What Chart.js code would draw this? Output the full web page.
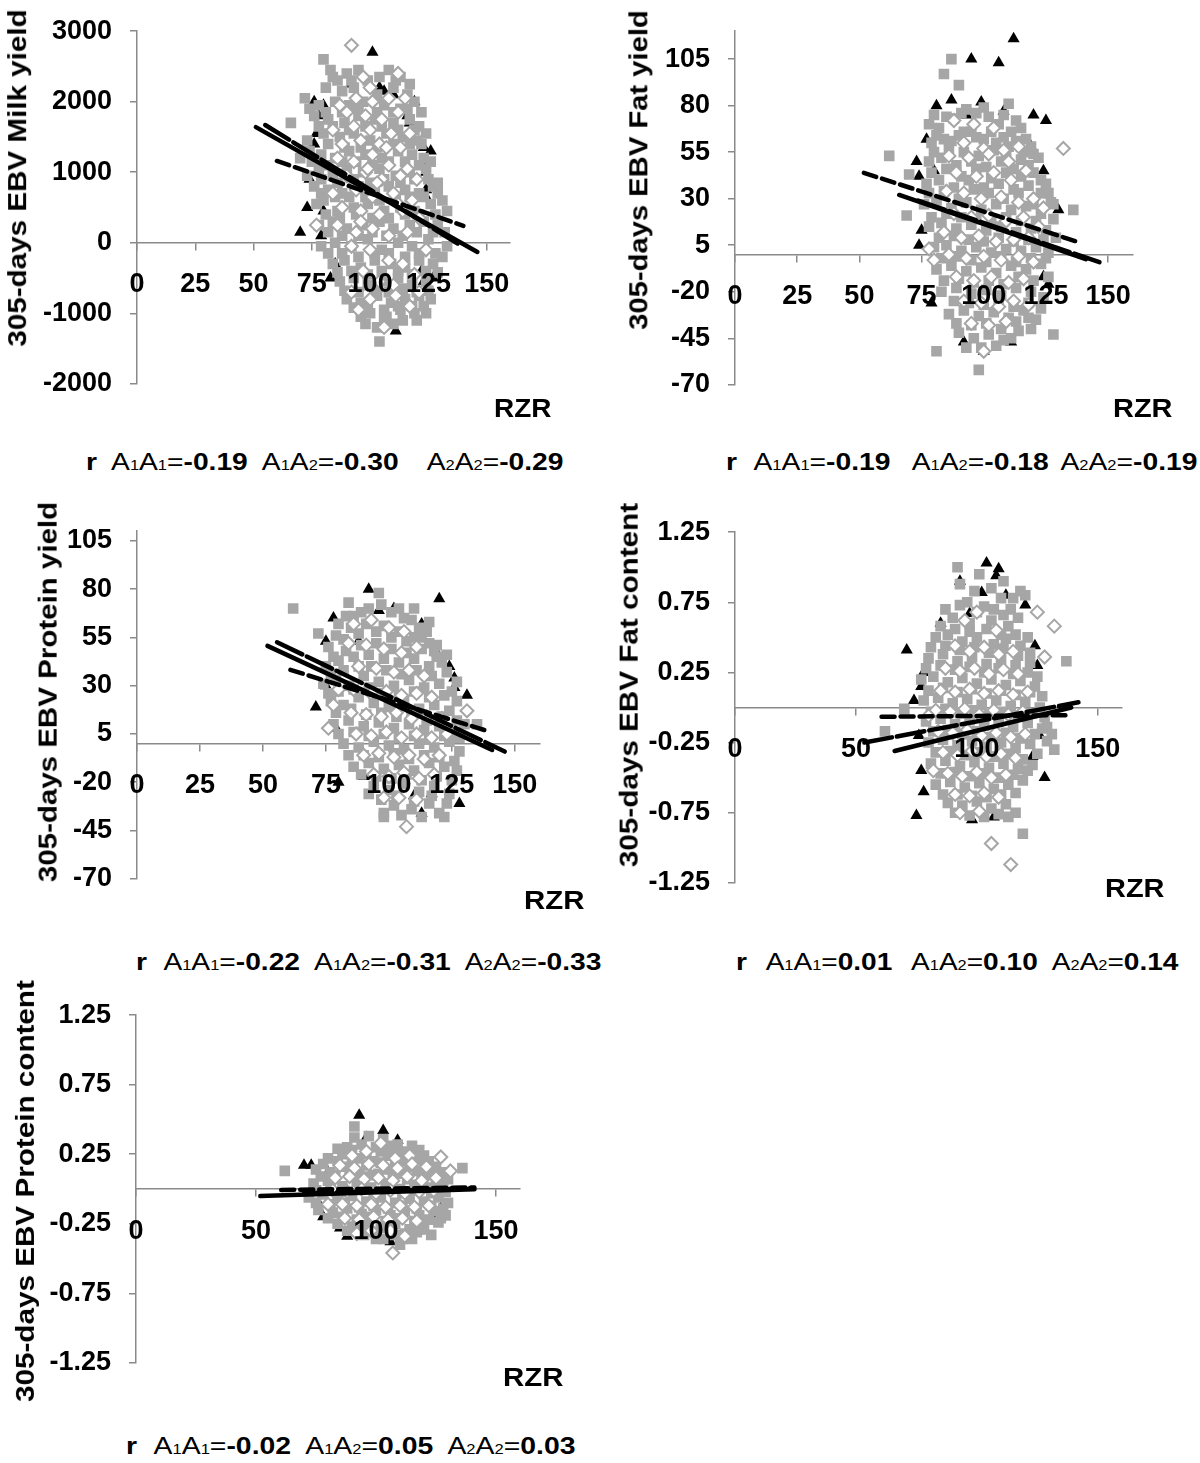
<!DOCTYPE html>
<html><head><meta charset="utf-8">
<script src="https://cdn.jsdelivr.net/npm/chart.js@4.4.1/dist/chart.umd.min.js"></script>
<style>
html,body{margin:0;padding:0;background:#fff;}
#page{position:relative;width:1200px;height:1463px;overflow:hidden;font-family:"Liberation Sans",Arial,Helvetica,sans-serif;color:#000;}
canvas{position:absolute;}
.ytitle{position:absolute;white-space:nowrap;font-weight:bold;font-size:26px;line-height:1;transform-origin:center center;}
.xtitle{position:absolute;white-space:nowrap;font-weight:bold;font-size:26px;line-height:1;transform-origin:left center;}
.corr{position:absolute;white-space:nowrap;font-size:24px;line-height:1;transform-origin:left center;}
.corr b{font-weight:bold;}
.corr .s{font-size:14px;}
</style></head><body><div id="page"></div>
<script>
// ---------- tick labels ----------
const xTicks25 = [0, 25, 50, 75, 100, 125, 150];
const xTicks50 = [0, 50, 100, 150];
const milkTicks = [-2000, -1000, 0, 1000, 2000, 3000];
const yieldTicks = [-70, -45, -20, 5, 30, 55, 80, 105];
const contentTicks = [-1.25, -0.75, -0.25, 0.25, 0.75, 1.25];

// ---------- titles ----------
const yTitles = ["305-days EBV Milk yield", "305-days EBV Fat yield", "305-days EBV Protein yield", "305-days EBV Fat content", "305-days EBV Protein content"];
const xTitle = "RZR";
const genotypes = [["1", "1"], ["1", "2"], ["2", "2"]];

// ---------- correlations (A1A1, A1A2, A2A2) ----------
const milkR = ["-0.19", "-0.30", "-0.29"];
const fatYieldR = ["-0.19", "-0.18", "-0.19"];
const protYieldR = ["-0.22", "-0.31", "-0.33"];
const fatContR = ["0.01", "0.10", "0.14"];
const protContR = ["-0.02", "0.05", "0.03"];

// ---------- Milk yield ----------
const milkA1A1 = [[101,2700],[92,2250],[104,2200],[106,2150],[110,2100],[119,2000],[76,2000],[80,1950],[78,1800],[116,1800],[117,1700],[76,1400],[77,1550],[123,1350],[126,1300],[124,1150],[124,1000],[74,900],[73,500],[70,150],[79,100],[83,-500],[111,-1250],[122,-400],[124,650],[124,750],[85,-300],[123,-550],[127,-500],[80,450]];
const milkA1A2 = [[80,2600],[83,2450],[86,2300],[90,2400],[95,2450],[99,2300],[108,2450],[113,2350],[81,2200],[88,2150],[93,2200],[103,2100],[110,2200],[116,2100],[72,2050],[78,1950],[85,2000],[91,1950],[97,2000],[106,1950],[113,1900],[119,2000],[76,1800],[82,1750],[89,1700],[95,1800],[102,1750],[110,1700],[117,1750],[121,1650],[66,1700],[80,1550],[87,1500],[93,1550],[100,1450],[107,1550],[114,1500],[120,1450],[74,1300],[79,1250],[85,1200],[91,1300],[98,1250],[105,1200],[112,1300],[118,1250],[123,1200],[70,1200],[78,1050],[84,950],[90,1050],[97,1000],[104,1050],[111,950],[117,1000],[124,1050],[76,800],[82,750],[88,700],[95,800],[102,700],[108,800],[115,750],[121,700],[127,800],[77,550],[80,600],[86,450],[93,500],[99,550],[106,450],[113,500],[119,450],[126,550],[131,600],[78,250],[84,300],[90,200],[97,250],[104,300],[110,200],[117,250],[123,300],[129,250],[79,-50],[85,0],[92,-50],[99,50],[105,-100],[112,0],[118,-50],[125,50],[133,-50],[84,-300],[89,-250],[96,-350],[102,-250],[109,-300],[115,-350],[121,-250],[127,-300],[87,-550],[93,-500],[99,-600],[106,-550],[112,-500],[118,-600],[124,-550],[90,-800],[96,-850],[103,-750],[109,-850],[115,-800],[121,-750],[126,-800],[96,-1050],[100,-1000],[107,-1050],[113,-950],[119,-1000],[124,-1000],[103,-1200],[110,-1150],[104,-1400],
  [84,2350],[92,2300],[104,2350],[111,2300],[117,2250],[74,1900],[81,1850],[88,1850],[95,1900],[103,1850],[110,1850],[116,1900],[122,1850],[78,1650],[84,1650],[91,1600],[98,1650],[105,1650],[112,1600],[119,1600],[124,1550],[73,1450],[82,1400],[89,1350],[96,1350],[103,1350],[110,1400],[117,1400],[122,1400],[75,1150],[81,1100],[88,1150],[94,1150],[101,1100],[108,1150],[115,1150],[121,1100],[126,1150],[73,950],[79,900],[86,850],[93,900],[100,850],[106,900],[113,850],[119,900],[125,900],[129,850],[79,700],[85,650],[91,650],[98,650],[104,600],[111,650],[117,650],[123,650],[129,700],[81,400],[87,350],[94,400],[101,350],[108,350],[115,400],[121,400],[128,400],[133,450],[82,150],[88,100],[95,100],[101,150],[107,100],[114,100],[120,150],[127,150],[132,150],[82,-150],[88,-150],[95,-200],[102,-150],[108,-150],[115,-200],[121,-150],[128,-150],[131,-200],[86,-420],[92,-400],[99,-450],[105,-400],[112,-400],[118,-450],[124,-400],[129,-420],[89,-680],[95,-700],[102,-650],[108,-700],[114,-650],[120,-700],[125,-680],[93,-920],[99,-900],[106,-950],[112,-900],[118,-900],[123,-900],[98,-1150],[106,-1100],[114,-1100],[120,-1100]];
const milkA2A2 = [[92,2800],[97,2350],[112,2400],[100,2200],[87,1950],[94,2050],[101,2000],[108,2050],[115,2050],[90,1850],[98,1800],[105,1750],[112,1850],[84,1600],[93,1650],[100,1600],[109,1550],[117,1550],[88,1400],[96,1450],[104,1400],[113,1350],[86,1200],[93,1150],[101,1250],[108,1100],[116,1050],[90,950],[98,1000],[105,900],[113,950],[120,900],[84,700],[94,750],[101,650],[110,700],[118,600],[88,500],[96,450],[104,400],[114,450],[121,350],[86,250],[94,150],[101,200],[108,100],[116,150],[124,-100],[92,-50],[100,-100],[108,-250],[114,-300],[97,-400],[104,-550],[110,-600],[119,-450],[92,-700],[100,-800],[111,-750],[95,-950],[106,-1200],[117,-900],[77,250],[121,-700],[99,1050],[107,1350],[103,850],[96,300],[112,550]];
const milkTrendA1A1 = [[51,1640],[146,-130]];
const milkTrendA1A2 = [[55,1670],[139,-40]];
const milkTrendA2A2 = [[60,1160],[140,240]];

// ---------- Fat yield ----------
const fatYieldA1A1 = [[112,116],[95,105],[106,103],[81,80],[87,83],[99,82],[120,75],[125,72],[77,62],[73,50],[74,42],[80,45],[124,45],[130,24],[74,5],[75,13],[79,-26],[92,-47],[111,-47],[124,-12],[126,-16],[100,-52],[108,77],[93,75],[118,57],[119,58]];
const fatYieldA1A2 = [[87,105],[84,97],[90,91],[62,53],[70,43],[69,21],[81,-52],[98,-62],[136,24],[128,-43],[110,81],[123,40],[128,27],[78,70],[82,68],[88,73],[93,78],[97,76],[102,74],[106,70],[111,66],[115,68],[79,60],[84,62],[90,64],[95,66],[100,62],[105,60],[110,58],[116,55],[78,50],[83,52],[89,48],[95,50],[101,47],[107,50],[112,46],[118,48],[122,52],[77,38],[82,40],[88,36],[94,40],[100,36],[106,38],[112,35],[118,37],[123,33],[76,27],[81,29],[87,25],[93,28],[99,24],[105,27],[111,24],[117,26],[123,22],[127,28],[78,15],[83,17],[89,14],[95,16],[101,13],[107,15],[113,12],[119,14],[125,13],[80,4],[85,5],[91,2],[97,4],[103,1],[109,3],[115,2],[121,4],[126,1],[81,-8],[87,-6],[93,-9],[99,-7],[105,-10],[111,-6],[117,-8],[123,-5],[83,-20],[89,-18],[95,-21],[101,-19],[107,-22],[113,-18],[119,-20],[124,-23],[86,-32],[92,-30],[98,-33],[104,-31],[110,-34],[116,-30],[121,-35],[90,-42],[96,-45],[102,-43],[108,-46],[114,-41],[119,-40],[99,-50],
  [80,75],[85,74],[91,76],[100,79],[108,75],[113,72],[117,62],[81,64],[87,61],[92,66],[97,63],[103,66],[108,63],[113,61],[119,58],[80,55],[86,57],[92,55],[98,53],[104,56],[109,53],[115,51],[120,54],[79,44],[85,46],[91,42],[97,46],[103,41],[109,44],[115,42],[120,44],[125,38],[78,33],[84,34],[90,30],[96,35],[102,33],[108,30],[114,33],[120,27],[126,33],[79,20],[85,22],[91,20],[97,19],[103,18],[109,20],[115,18],[121,18],[128,19],[82,9],[88,10],[94,8],[100,7],[106,9],[112,7],[118,8],[124,8],[129,9],[83,-2],[89,-1],[95,-3],[101,-4],[107,-1],[113,-4],[119,-2],[125,-2],[84,-14],[90,-13],[96,-15],[102,-14],[108,-16],[114,-12],[120,-14],[126,-12],[88,-25],[94,-26],[100,-27],[106,-25],[112,-28],[118,-26],[123,-29],[89,-37],[95,-38],[101,-37],[107,-40],[113,-36],[118,-34],[93,-50],[105,-49],[111,-45]];
const fatYieldA2A2 = [[88,72],[96,70],[104,68],[92,60],[100,57],[108,56],[114,58],[86,53],[94,52],[102,54],[110,50],[117,45],[89,44],[97,42],[104,44],[111,40],[85,34],[92,33],[99,30],[107,31],[114,28],[120,30],[88,22],[95,20],[102,21],[109,18],[116,20],[122,15],[84,12],[91,9],[98,10],[105,7],[112,8],[118,9],[86,0],[93,-2],[100,-1],[107,-3],[114,-1],[120,-4],[80,-3],[78,3],[89,-12],[96,-14],[103,-12],[110,-15],[116,-13],[92,-25],[99,-26],[106,-28],[112,-25],[118,-27],[95,-37],[102,-38],[109,-36],[100,-52],[132,57],[124,25]];
const fatYieldTrendA1A1 = [[66,32],[141,-2.5]];
const fatYieldTrendA1A2 = [[73.6,29],[146.5,-4.1]];
const fatYieldTrendA2A2 = [[51.8,43.9],[138,6.7]];

// ---------- Protein yield ----------
const protYieldA1A1 = [[92,80],[120,75],[78,65],[102,70],[75,53],[71,19],[79,8],[126,34],[131,25],[126,29],[128,-31],[113,-36],[117,-26],[110,-27],[90,-17],[119,47],[88,53],[80,-20],[113,62],[75,30],[96,69],[124,40]];
const protYieldA1A2 = [[62,70],[96,78],[84,73],[110,70],[72,57],[116,63],[119,51],[135,10],[122,-38],[98,-36],[92,-26],[127,-14],[80,62],[86,66],[92,70],[101,68],[106,65],[112,60],[76,50],[82,54],[88,57],[95,58],[101,55],[107,53],[113,55],[118,48],[75,40],[80,43],[86,45],[92,46],[98,44],[104,42],[110,44],[116,40],[121,42],[74,31],[79,33],[84,30],[90,35],[96,32],[102,30],[108,33],[114,29],[120,31],[125,27],[77,22],[82,20],[88,24],[94,21],[100,19],[106,22],[112,18],[118,20],[124,17],[78,10],[84,12],[90,9],[96,11],[102,8],[108,10],[114,7],[120,9],[126,6],[130,10],[82,0],[88,-2],[94,1],[100,-1],[106,-3],[112,0],[118,-2],[124,1],[128,-4],[86,-12],[92,-10],[98,-13],[104,-11],[110,-14],[116,-10],[122,-12],[94,-22],[100,-24],[106,-21],[112,-25],[118,-22],[124,-26],[102,-32],[109,-34],[116,-31],[120,-36],[98,-38],
  [83,66],[89,68],[97,72],[104,70],[109,64],[115,58],[79,56],[85,60],[91,62],[98,61],[104,58],[110,55],[116,52],[78,45],[83,48],[89,51],[95,52],[101,49],[107,47],[113,49],[119,45],[123,46],[77,36],[82,38],[88,40],[93,40],[99,38],[105,36],[111,38],[117,35],[123,37],[127,32],[76,26],[80,27],[86,28],[92,29],[98,26],[104,25],[110,27],[116,24],[122,25],[127,22],[79,16],[85,18],[91,15],[97,16],[103,14],[109,16],[115,12],[121,14],[127,12],[80,5],[86,6],[92,4],[98,5],[104,3],[110,4],[116,2],[122,4],[128,3],[84,-6],[90,-6],[96,-7],[102,-5],[108,-8],[114,-6],[120,-7],[126,-9],[89,-16],[95,-17],[101,-18],[107,-16],[113,-19],[119,-17],[125,-19],[97,-29],[103,-27],[110,-30],[117,-27],[123,-31],[105,-37],[113,-38]];
const protYieldA2A2 = [[107,-43],[131,17],[76,8],[86,62],[93,64],[100,60],[106,58],[84,52],[91,51],[98,49],[105,47],[111,50],[88,40],[95,39],[102,37],[108,38],[114,35],[86,28],[93,26],[99,27],[105,25],[111,26],[117,24],[85,16],[91,15],[97,14],[103,16],[109,13],[115,14],[121,13],[87,5],[93,4],[99,6],[105,3],[111,5],[117,3],[123,5],[90,-6],[96,-5],[102,-7],[108,-6],[114,-8],[120,-6],[94,-16],[100,-17],[106,-15],[112,-18],[118,-16],[98,-28],[104,-28],[111,-29],[78,20],[80,28]];
const protYieldTrendA1A1 = [[51.8,50.6],[141,-3.3]];
const protYieldTrendA1A2 = [[55.6,52.5],[146,-4.1]];
const protYieldTrendA2A2 = [[60.9,38.2],[138,7]];

// ---------- Fat content ----------
const fatContA1A1 = [[104,1.03],[109,0.99],[108,0.94],[93,0.9],[71,0.41],[85,0.6],[120,0.73],[102,0.82],[75,-0.77],[98,-0.8],[128,-0.5],[74,0.05],[124,0.44],[125,0.3],[97,0.67],[78,0.25],[77,0.15],[76,-0.2],[77,-0.45],[78,-0.6],[126,-0.2],[123,-0.35],[112,0.8],[107,-0.78]];
const fatContA1A2 = [[92,1.0],[101,0.95],[120,0.8],[118,0.83],[137,0.33],[119,-0.9],[62,-0.17],[70,-0.01],[132,-0.3],[131,-0.19],[96,0.75],[103,0.72],[110,0.78],[114,0.7],[90,0.64],[97,0.6],[106,0.62],[113,0.58],[83,0.5],[88,0.52],[94,0.47],[100,0.5],[107,0.45],[112,0.49],[118,0.44],[80,0.35],[86,0.38],[92,0.33],[98,0.36],[104,0.31],[110,0.34],[116,0.3],[122,0.32],[77,0.2],[82,0.22],[88,0.18],[94,0.21],[100,0.17],[106,0.2],[112,0.16],[118,0.19],[124,0.15],[78,0.05],[84,0.07],[90,0.03],[96,0.06],[102,0.02],[108,0.05],[114,0.01],[120,0.04],[126,0.0],[79,-0.1],[85,-0.08],[91,-0.12],[97,-0.09],[103,-0.13],[109,-0.1],[115,-0.14],[121,-0.11],[127,-0.15],[80,-0.25],[86,-0.23],[92,-0.27],[98,-0.24],[104,-0.28],[110,-0.25],[116,-0.29],[122,-0.26],[129,-0.24],[81,-0.4],[87,-0.38],[93,-0.42],[99,-0.39],[105,-0.43],[111,-0.4],[117,-0.44],[123,-0.41],[83,-0.55],[89,-0.53],[95,-0.57],[101,-0.54],[107,-0.58],[113,-0.55],[119,-0.52],[88,-0.68],[94,-0.7],[100,-0.67],[106,-0.72],[112,-0.69],[116,-0.75],
  [93,0.88],[99,0.83],[106,0.85],[111,0.9],[115,0.78],[87,0.7],[93,0.73],[100,0.68],[107,0.7],[111,0.66],[117,0.64],[85,0.58],[91,0.56],[97,0.54],[104,0.56],[110,0.52],[116,0.52],[121,0.5],[81,0.43],[87,0.44],[93,0.41],[99,0.43],[105,0.39],[111,0.42],[117,0.37],[122,0.39],[79,0.28],[85,0.3],[91,0.27],[97,0.29],[103,0.25],[109,0.28],[115,0.24],[121,0.25],[125,0.22],[80,0.12],[86,0.14],[92,0.11],[98,0.13],[104,0.1],[110,0.12],[116,0.09],[122,0.11],[127,0.08],[81,-0.03],[87,-0.01],[93,-0.04],[99,-0.02],[105,-0.05],[111,-0.03],[117,-0.06],[123,-0.04],[128,-0.07],[82,-0.17],[88,-0.16],[94,-0.19],[100,-0.17],[106,-0.21],[112,-0.18],[118,-0.22],[124,-0.19],[129,-0.14],[83,-0.32],[89,-0.31],[95,-0.34],[101,-0.32],[107,-0.35],[113,-0.33],[119,-0.37],[125,-0.33],[85,-0.47],[91,-0.46],[97,-0.49],[103,-0.47],[109,-0.5],[115,-0.48],[121,-0.45],[86,-0.62],[92,-0.62],[98,-0.63],[104,-0.64],[110,-0.62],[116,-0.61],[91,-0.75],[97,-0.77],[103,-0.78],[109,-0.76],[113,-0.78]];
const fatContA2A2 = [[106,-0.97],[114,-1.12],[125,0.68],[132,0.58],[128,0.36],[95,0.62],[100,0.68],[108,0.55],[91,0.44],[97,0.4],[103,0.43],[109,0.38],[115,0.4],[87,0.28],[93,0.26],[99,0.28],[105,0.24],[111,0.27],[117,0.24],[85,0.12],[91,0.11],[97,0.13],[103,0.1],[109,0.12],[115,0.09],[121,0.11],[83,-0.02],[89,-0.03],[95,-0.01],[101,-0.05],[107,-0.02],[113,-0.05],[119,-0.03],[84,-0.17],[90,-0.18],[96,-0.16],[102,-0.2],[108,-0.18],[114,-0.21],[120,-0.19],[86,-0.32],[92,-0.34],[98,-0.31],[104,-0.35],[110,-0.33],[116,-0.36],[88,-0.47],[94,-0.49],[100,-0.46],[106,-0.5],[112,-0.48],[91,-0.62],[97,-0.63],[103,-0.61],[109,-0.64],[93,-0.75],[101,-0.74],[80,-0.06],[82,-0.45]];
const fatContTrendA1A1 = [[66,-0.31],[139,0.0]];
const fatContTrendA1A2 = [[53.5,-0.25],[142,0.037]];
const fatContTrendA2A2 = [[60.6,-0.066],[136.6,-0.055]];

// ---------- Protein content ----------
const protContA1A1 = [[93,0.53],[103,0.42],[70,0.17],[73,0.17],[109,0.35],[88,-0.34],[106,-0.38],[127,-0.14],[80,0.12],[76,-0.1],[78,-0.2],[125,-0.2],[85,-0.28],[118,-0.3],[96,0.37],[73,-0.02]];
const protContA1A2 = [[62,0.13],[91,0.45],[136,0.15],[123,-0.33],[115,-0.36],[110,-0.4],[88,0.3],[94,0.32],[100,0.3],[106,0.31],[112,0.27],[118,0.28],[80,0.22],[86,0.25],[93,0.22],[99,0.2],[105,0.24],[111,0.2],[117,0.22],[122,0.2],[75,0.14],[81,0.12],[87,0.16],[93,0.12],[99,0.1],[105,0.14],[111,0.11],[117,0.13],[123,0.1],[128,0.12],[74,0.04],[80,0.06],[86,0.02],[92,0.05],[98,0.01],[104,0.04],[110,0.0],[116,0.03],[122,0.01],[128,0.04],[72,-0.06],[78,-0.04],[84,-0.08],[90,-0.05],[96,-0.09],[102,-0.06],[108,-0.1],[114,-0.07],[120,-0.09],[126,-0.06],[130,-0.1],[76,-0.15],[82,-0.17],[88,-0.14],[94,-0.18],[100,-0.15],[106,-0.19],[112,-0.16],[118,-0.19],[124,-0.16],[129,-0.19],[84,-0.25],[90,-0.27],[96,-0.24],[102,-0.28],[108,-0.25],[114,-0.29],[120,-0.26],[126,-0.24],[95,-0.33],[103,-0.36],[108,-0.33],[117,-0.31],
  [91,0.37],[97,0.38],[103,0.36],[109,0.32],[115,0.31],[84,0.29],[90,0.28],[96,0.25],[102,0.27],[108,0.26],[114,0.25],[120,0.24],[78,0.18],[84,0.2],[90,0.18],[96,0.17],[102,0.19],[108,0.17],[114,0.16],[120,0.17],[125,0.16],[77,0.09],[83,0.1],[89,0.12],[95,0.09],[101,0.11],[107,0.09],[113,0.07],[119,0.1],[125,0.05],[130,0.07],[75,-0.01],[81,0.01],[87,-0.02],[93,0.0],[99,-0.02],[105,0.01],[111,-0.03],[117,-0.01],[123,-0.03],[129,-0.02],[75,-0.1],[81,-0.11],[87,-0.1],[93,-0.13],[99,-0.12],[105,-0.14],[111,-0.12],[117,-0.14],[123,-0.12],[128,-0.14],[80,-0.21],[86,-0.2],[92,-0.22],[98,-0.2],[104,-0.23],[110,-0.21],[116,-0.23],[122,-0.22],[127,-0.21],[88,-0.3],[94,-0.29],[100,-0.31],[106,-0.29],[112,-0.32],[119,-0.29],[100,-0.36],[111,-0.36]];
const protContA2A2 = [[107,-0.46],[127,0.23],[131,0.13],[90,0.24],[96,0.27],[102,0.33],[108,0.22],[114,0.24],[85,0.17],[91,0.15],[97,0.18],[103,0.17],[109,0.15],[115,0.18],[121,0.16],[83,0.08],[89,0.09],[95,0.07],[101,0.08],[107,0.06],[113,0.09],[119,0.06],[125,0.08],[82,-0.01],[88,-0.02],[94,0.0],[100,-0.03],[106,-0.01],[112,-0.03],[118,-0.02],[124,-0.01],[80,-0.11],[86,-0.11],[92,-0.12],[98,-0.11],[104,-0.13],[110,-0.12],[116,-0.13],[122,-0.12],[87,-0.21],[93,-0.22],[99,-0.2],[105,-0.22],[111,-0.21],[117,-0.23],[98,-0.3],[92,-0.32],[106,-0.3],[112,-0.34]];
const protContTrendA1A1 = [[51.8,-0.051],[141,-0.002]];
const protContTrendA1A2 = [[70,-0.03],[140,0.004]];
const protContTrendA2A2 = [[60.5,-0.007],[141,0.011]];

// ---------- panel assembly ----------
const panels = [
  {title: yTitles[0], yMin: -2000, yMax: 3000, yTicks: milkTicks, xTicks: xTicks25, tri: milkA1A1, sq: milkA1A2, dia: milkA2A2, trends: [milkTrendA1A1, milkTrendA1A2, milkTrendA2A2], r: milkR},
  {title: yTitles[1], yMin: -70, yMax: 120, yTicks: yieldTicks, xTicks: xTicks25, tri: fatYieldA1A1, sq: fatYieldA1A2, dia: fatYieldA2A2, trends: [fatYieldTrendA1A1, fatYieldTrendA1A2, fatYieldTrendA2A2], r: fatYieldR},
  {title: yTitles[2], yMin: -70, yMax: 110, yTicks: yieldTicks, xTicks: xTicks25, tri: protYieldA1A1, sq: protYieldA1A2, dia: protYieldA2A2, trends: [protYieldTrendA1A1, protYieldTrendA1A2, protYieldTrendA2A2], r: protYieldR},
  {title: yTitles[3], yMin: -1.25, yMax: 1.25, yTicks: contentTicks, xTicks: xTicks50, tri: fatContA1A1, sq: fatContA1A2, dia: fatContA2A2, trends: [fatContTrendA1A1, fatContTrendA1A2, fatContTrendA2A2], r: fatContR},
  {title: yTitles[4], yMin: -1.25, yMax: 1.25, yTicks: contentTicks, xTicks: xTicks50, tri: protContA1A1, sq: protContA1A2, dia: protContA2A2, trends: [protContTrendA1A1, protContTrendA1A2, protContTrendA2A2], r: protContR}
];

// layout (pixel positions of plot areas and texts)
const layout = [
  {L: 137, R: 510, T: 17, B: 398, title: {cx: 17, cy: 178, len: 337}, rzr: {x: 494, y: 408, w: 57}, corr: {x: 86, y: 462, w: 477, gaps: [12, 12, 24]}},
  {L: 735, R: 1133, T: 17, B: 399, title: {cx: 638, cy: 170, len: 320}, rzr: {x: 1113, y: 408, w: 59}, corr: {x: 726, y: 462, w: 471, gaps: [14, 18, 10]}},
  {L: 137, R: 540, T: 517, B: 893, title: {cx: 47, cy: 692, len: 380}, rzr: {x: 524, y: 900, w: 60}, corr: {x: 136, y: 962, w: 465, gaps: [14, 12, 12]}},
  {L: 735, R: 1122, T: 518, B: 897, title: {cx: 628, cy: 685, len: 364}, rzr: {x: 1105, y: 888, w: 59}, corr: {x: 736, y: 962, w: 442, gaps: [16, 16, 12]}},
  {L: 136, R: 520, T: 1001, B: 1377, title: {cx: 25, cy: 1191, len: 422}, rzr: {x: 503, y: 1377, w: 60}, corr: {x: 126, y: 1446, w: 449, gaps: [14, 12, 12]}}
];

const FONT = "'Liberation Sans', Arial, Helvetica, sans-serif";
const AXIS = '#8a8a8a';
const GRAY = '#a6a6a6';
const page = document.getElementById('page');
const toXY = arr => arr.map(p => ({x: p[0], y: p[1]}));
const dashes = [[], [28, 5], [13, 6]];

function makeChart(i) {
  const p = panels[i], g = layout[i];
  const W = 120, padT = 20, padB = 20, padR = 20;
  const cw = W + (g.R - g.L) + padR, ch = padT + (g.B - g.T) + padB;
  const cv = document.createElement('canvas');
  cv.width = cw; cv.height = ch;
  cv.style.width = cw + 'px'; cv.style.height = ch + 'px';
  cv.style.left = (g.L - W) + 'px'; cv.style.top = (g.T - padT) + 'px';
  page.appendChild(cv);
  const datasets = [];
  p.trends.forEach((t, k) => datasets.push({
    type: 'line', data: toXY(t), showLine: true, borderColor: '#000', borderWidth: 4.5,
    borderDash: dashes[k], pointRadius: 0, fill: false, order: 0, borderCapStyle: 'round'
  }));
  datasets.push({label: 'A2A2', data: toXY(p.dia), pointStyle: 'rectRot', pointRadius: 6.5,
    backgroundColor: '#fff', borderColor: GRAY, borderWidth: 2, order: 1});
  datasets.push({label: 'A1A2', data: toXY(p.sq), pointStyle: 'rect', pointRadius: 7.5,
    backgroundColor: GRAY, borderColor: GRAY, borderWidth: 0, order: 2});
  datasets.push({label: 'A1A1', data: toXY(p.tri), pointStyle: 'triangle', pointRadius: 7,
    backgroundColor: '#000', borderColor: '#000', borderWidth: 0, order: 3});
  const tickFont = {family: FONT, size: 27, weight: 'bold'};
  new Chart(cv.getContext('2d'), {
    type: 'scatter',
    data: {datasets},
    options: {
      responsive: false, animation: false, devicePixelRatio: 1, events: [],
      layout: {padding: {left: 0, right: padR, top: padT, bottom: padB}},
      plugins: {legend: {display: false}, tooltip: {enabled: false}},
      scales: {
        x: {
          type: 'linear', min: 0, max: 160, position: {y: 0},
          afterBuildTicks: s => { s.ticks = p.xTicks.map(v => ({value: v})); },
          grid: {drawOnChartArea: false, drawTicks: true, tickLength: 7, color: AXIS, lineWidth: 1.5},
          border: {display: true, color: AXIS, width: 1.5},
          ticks: {z: 1, autoSkip: false, maxRotation: 0, minRotation: 0, padding: 19, color: '#000', font: tickFont,
                  callback: v => String(v)}
        },
        y: {
          type: 'linear', min: p.yMin, max: p.yMax, position: 'left',
          afterFit: s => { s.width = W; },
          afterBuildTicks: s => { s.ticks = p.yTicks.map(v => ({value: v})); },
          grid: {drawOnChartArea: false, drawTicks: true, tickLength: 7, color: AXIS, lineWidth: 1.5},
          border: {display: true, color: AXIS, width: 1.5},
          ticks: {autoSkip: false, padding: 18, color: '#000', font: tickFont, callback: v => String(v)}
        }
      }
    }
  });
}

function addTexts(i) {
  const p = panels[i], g = layout[i];
  const t = document.createElement('div');
  t.className = 'ytitle'; t.textContent = p.title;
  page.appendChild(t);
  const s1 = g.title.len / t.offsetWidth;
  t.style.left = (g.title.cx - t.offsetWidth / 2) + 'px';
  t.style.top = (g.title.cy - t.offsetHeight / 2) + 'px';
  t.style.transform = 'rotate(-90deg) scaleX(' + s1.toFixed(4) + ')';
  const r = document.createElement('div');
  r.className = 'xtitle'; r.textContent = xTitle;
  page.appendChild(r);
  r.style.left = g.rzr.x + 'px'; r.style.top = (g.rzr.y - r.offsetHeight / 2) + 'px';
  r.style.transform = 'scaleX(' + (g.rzr.w / r.offsetWidth).toFixed(4) + ')';
  const c = document.createElement('div');
  c.className = 'corr';
  let html = '<b>r</b>';
  genotypes.forEach((gt, k) => {
    html += '<span style="margin-left:' + g.corr.gaps[k] + 'px">A<span class="s">' + gt[0] + '</span>A<span class="s">' + gt[1] + '</span>=<b>' + p.r[k] + '</b></span>';
  });
  c.innerHTML = html;
  page.appendChild(c);
  c.style.left = g.corr.x + 'px'; c.style.top = (g.corr.y - c.offsetHeight / 2) + 'px';
  c.style.transform = 'scaleX(' + (g.corr.w / c.offsetWidth).toFixed(4) + ')';
}

for (let i = 0; i < panels.length; i++) makeChart(i);
for (let i = 0; i < panels.length; i++) addTexts(i);
</script></body></html>
